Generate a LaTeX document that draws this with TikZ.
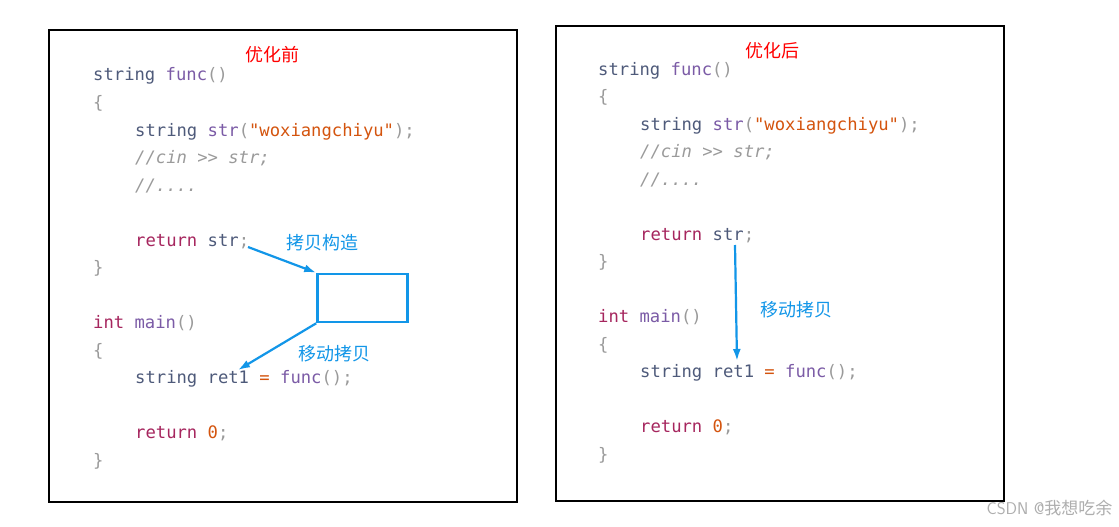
\documentclass[tikz,border=0pt]{standalone}
\usepackage{fontspec}
\setmonofont{DejaVu Sans Mono}
\newfontfamily\cjk{Noto Sans CJK SC}
\usetikzlibrary{arrows.meta}
\definecolor{kwcol}{HTML}{A6265E}
\definecolor{tycol}{HTML}{4E5A7A}
\definecolor{fncol}{HTML}{7B5BA6}
\definecolor{stcol}{HTML}{D4540E}
\definecolor{pucol}{HTML}{9A9A9A}
\definecolor{lbcol}{HTML}{1296E8}
\newcommand{\kw}[1]{\textcolor{kwcol}{#1}}
\newcommand{\ty}[1]{\textcolor{tycol}{#1}}
\newcommand{\fn}[1]{\textcolor{fncol}{#1}}
\newcommand{\st}[1]{\textcolor{stcol}{#1}}
\newcommand{\pu}[1]{\textcolor{pucol}{#1}}
\newcommand{\cm}[1]{\textcolor{pucol}{\itshape #1}}
\tikzset{
  codeline/.style={anchor=base west,inner sep=0pt,font=\ttfamily\fontsize{17.2}{18}\selectfont},
  panel/.style={draw=black,line width=2.2pt},
  title/.style={text=red,font=\cjk\fontsize{18}{19}\selectfont},
  note/.style={text=lbcol,font=\cjk\fontsize{18}{19}\selectfont},
  movearrow/.style={draw=lbcol,line width=2.2pt,-{Latex[length=12pt,width=8pt]}}
}
\newcommand{\codeblock}[2]{%
  \node[codeline] at (#1,#2) {\ty{string} \fn{func}\pu{()}};
  \node[codeline] at (#1,#2+27.5) {\pu{\{}};
  \node[codeline] at (#1+42,#2+55) {\ty{string} \fn{str}\pu{(}\st{"woxiangchiyu"}\pu{);}};
  \node[codeline] at (#1+42,#2+82.5) {\cm{//cin >> str;}};
  \node[codeline] at (#1+42,#2+110) {\cm{//....}};
  \node[codeline] at (#1+42,#2+165) {\kw{return} \ty{str}\pu{;}};
  \node[codeline] at (#1,#2+192.5) {\pu{\}}};
  \node[codeline] at (#1,#2+247.5) {\kw{int} \fn{main}\pu{()}};
  \node[codeline] at (#1,#2+275) {\pu{\{}};
  \node[codeline] at (#1+42,#2+302.5) {\ty{string ret1} \st{=} \fn{func}\pu{();}};
  \node[codeline] at (#1+42,#2+357.5) {\kw{return} \st{0}\pu{;}};
  \node[codeline] at (#1,#2+385) {\pu{\}}};
}
\begin{document}
\begin{tikzpicture}[x=1pt,y=-1pt]
\useasboundingbox[fill=white] (0,0) rectangle (1119,527);

% before
\draw[panel] (49,30) rectangle (517,502);
\node[title] (before) at (272,55) {优化前};
\codeblock{93}{81}
\node[draw=lbcol,line width=2.6pt,minimum width=90pt,minimum height=48pt] (tmp) at (362.5,298) {};
\node[note] (copy) at (322,243) {拷贝构造};
\node[note] (move) at (334,354) {移动拷贝};
\coordinate (strend) at (248,247);
\coordinate (ret) at (238,370);
\draw[movearrow] (strend) -- (tmp.north west);
\draw[movearrow] (tmp.south west) -- (ret);

% after
\draw[panel] (556,26) rectangle (1004,501);
\node[title] (after) at (772,51) {优化后};
\codeblock{598}{75}
\coordinate (strend2) at (735,245);
\coordinate (ret2) at (737,361);
\draw[movearrow] (strend2) -- (ret2);
\node[note] (move2) at (796,310) {移动拷贝};

\node[text=pucol!80,font=\sffamily\fontsize{17}{18}\selectfont,anchor=east] (mark) at (1116,508) {CSDN @{\cjk 我想吃余}};
\end{tikzpicture}
\end{document}
